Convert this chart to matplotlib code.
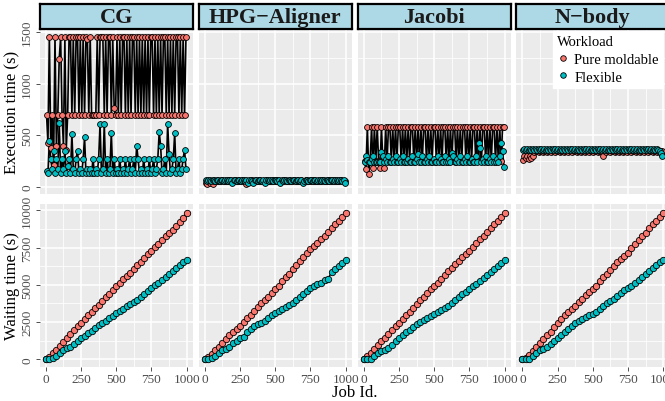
import numpy as np
import matplotlib
matplotlib.use("Agg")
import matplotlib.pyplot as plt
from matplotlib.lines import Line2D

plt.rcParams['font.family'] = ['Liberation Serif', 'DejaVu Serif']

apps = ["CG", "HPG\u2212Aligner", "Jacobi", "N\u2212body"]
workloads = ["Pure moldable", "Flexible"]
colors = {"Pure moldable": "#F8766D", "Flexible": "#00BFC4"}

# execution time, one value every 10 jobs
jobs_exec = np.arange(5, 1000, 10)

cg_exec_mold = [
    700, 420, 1450, 380, 700, 210, 1450, 400, 700, 1240,
    1450, 700, 400, 1450, 360, 700, 1450, 1450, 700, 1450,
    700, 1450, 1450, 700, 1450, 700, 1450, 700, 1450, 1430,
    700, 1450, 700, 700, 700, 700, 1450, 700, 1450, 1450,
    1450, 700, 1450, 700, 1450, 1450, 700, 1450, 760, 700,
    1450, 700, 1450, 700, 1450, 1450, 700, 1450, 700, 1450,
    700, 1450, 1450, 700, 1450, 700, 1450, 700, 1450, 700,
    1450, 700, 1450, 700, 1450, 1450, 700, 1450, 700, 1450,
    700, 1450, 700, 1450, 1450, 700, 1450, 700, 1450, 700,
    1450, 700, 1450, 1450, 700, 1450, 700, 1450, 700, 1450]
cg_exec_flex = [
    150, 130, 440, 270, 170, 350, 130, 270, 170, 620,
    130, 270, 170, 350, 130, 200, 270, 130, 510, 170,
    130, 270, 350, 130, 170, 130, 270, 480, 130, 170,
    130, 170, 130, 270, 130, 170, 130, 270, 610, 130,
    170, 610, 130, 270, 130, 170, 520, 130, 270, 130,
    170, 130, 270, 130, 170, 130, 270, 130, 170, 270,
    130, 170, 270, 130, 400, 270, 130, 170, 130, 270,
    130, 170, 130, 270, 130, 170, 270, 130, 170, 270,
    530, 400, 130, 170, 270, 130, 610, 320, 130, 170,
    270, 520, 130, 170, 270, 130, 170, 270, 360, 170]

hpg_exec_mold = [
    40, 30, 55, 35, 60, 30, 60, 55, 60, 60,
    60, 55, 65, 60, 60, 55, 60, 65, 60, 60,
    60, 65, 55, 60, 60, 60, 65, 60, 60, 30,
    60, 55, 60, 65, 60, 60, 55, 60, 65, 60,
    60, 55, 60, 65, 60, 60, 55, 60, 65, 60,
    60, 65, 55, 60, 60, 60, 65, 60, 60, 55,
    60, 55, 60, 65, 60, 60, 55, 60, 65, 60,
    60, 65, 55, 60, 60, 60, 65, 60, 60, 55,
    60, 55, 60, 65, 60, 60, 55, 60, 65, 60,
    60, 65, 55, 60, 60, 60, 65, 60, 60, 55]
hpg_exec_flex = [
    65, 60, 70, 65, 60, 70, 65, 60, 70, 65,
    60, 70, 65, 60, 70, 65, 60, 70, 65, 40,
    65, 70, 60, 65, 70, 60, 65, 70, 60, 65,
    40, 70, 65, 60, 40, 65, 70, 60, 65, 70,
    60, 65, 40, 65, 70, 60, 65, 70, 60, 65,
    70, 60, 65, 40, 70, 60, 65, 70, 60, 65,
    70, 60, 65, 70, 60, 65, 70, 60, 65, 40,
    60, 70, 65, 60, 70, 65, 60, 70, 65, 60,
    70, 65, 60, 70, 65, 60, 70, 65, 60, 70,
    65, 60, 70, 65, 60, 70, 65, 60, 70, 40]

jac_exec_mold = [
    250, 170, 580, 127, 250, 580, 180, 580, 250, 580,
    250, 180, 580, 250, 180, 580, 250, 580, 580, 250,
    580, 250, 580, 250, 580, 580, 250, 580, 250, 580,
    250, 580, 250, 580, 580, 250, 580, 250, 580, 250,
    580, 250, 580, 580, 250, 580, 250, 580, 250, 580,
    580, 250, 580, 250, 580, 250, 580, 580, 250, 580,
    250, 580, 250, 580, 580, 250, 580, 250, 580, 250,
    580, 580, 250, 580, 250, 580, 250, 580, 580, 250,
    580, 250, 580, 250, 580, 580, 250, 580, 250, 580,
    250, 580, 580, 250, 580, 250, 580, 250, 580, 580]
jac_exec_flex = [
    240, 300, 260, 240, 240, 270, 300, 240, 240, 240,
    240, 240, 340, 300, 240, 270, 240, 300, 240, 240,
    270, 240, 300, 240, 240, 270, 240, 300, 240, 240,
    240, 270, 240, 240, 300, 240, 240, 270, 320, 240,
    240, 300, 240, 240, 270, 240, 300, 240, 240, 270,
    240, 240, 300, 240, 270, 240, 240, 300, 240, 240,
    270, 240, 330, 300, 240, 240, 270, 240, 300, 240,
    240, 270, 240, 300, 240, 240, 270, 240, 240, 300,
    240, 420, 380, 240, 270, 240, 300, 240, 240, 270,
    240, 300, 240, 240, 270, 240, 300, 420, 350, 190]

nb_exec_mold = [
    260, 300, 280, 300, 270, 300, 280, 300, 340, 345,
    345, 340, 345, 345, 340, 345, 345, 340, 345, 345,
    340, 345, 345, 340, 345, 345, 340, 345, 345, 340,
    345, 345, 340, 345, 345, 340, 345, 345, 340, 345,
    345, 340, 345, 345, 340, 345, 345, 340, 345, 345,
    340, 345, 345, 340, 345, 345, 340, 300, 345, 340,
    345, 345, 340, 345, 345, 340, 345, 345, 340, 345,
    345, 340, 345, 345, 340, 345, 345, 340, 345, 345,
    340, 345, 345, 340, 345, 345, 340, 345, 345, 340,
    345, 345, 340, 345, 345, 340, 345, 345, 340, 345]
nb_exec_flex = [
    360, 365, 360, 370, 360, 365, 360, 370, 360, 365,
    360, 370, 360, 365, 360, 370, 360, 365, 360, 370,
    360, 365, 360, 370, 360, 365, 360, 370, 360, 365,
    360, 370, 360, 365, 360, 370, 360, 365, 360, 370,
    360, 365, 360, 370, 360, 365, 360, 370, 360, 365,
    360, 370, 360, 365, 360, 370, 360, 365, 360, 370,
    360, 365, 360, 370, 360, 365, 360, 370, 360, 365,
    360, 370, 360, 365, 360, 370, 360, 365, 360, 370,
    360, 365, 360, 370, 360, 365, 360, 370, 360, 365,
    360, 370, 360, 365, 360, 370, 360, 345, 330, 300]

# waiting time, one value every 25 jobs
jobs_wait = np.arange(0, 1001, 25)

cg_wait_mold = [0, 150, 400, 650, 900, 1150, 1450, 1700, 1950, 2200, 2450,
                2700, 2950, 3200, 3420, 3650, 3900, 4150, 4400, 4650, 4920,
                5150, 5380, 5600, 5800, 6050, 6300, 6550, 6800, 7050, 7280,
                7520, 7750, 8000, 8250, 8480, 8700, 8950, 9200, 9480, 9800]
cg_wait_flex = [0, 30, 100, 250, 450, 650, 750, 850, 1050, 1200, 1400,
                1550, 1750, 1900, 2100, 2300, 2450, 2600, 2750, 2900, 3100,
                3250, 3400, 3550, 3700, 3850, 4000, 4200, 4400, 4600, 4800,
                5000, 5150, 5350, 5550, 5750, 5900, 6100, 6300, 6500, 6650]
hpg_wait_mold = [0, 150, 350, 600, 850, 1100, 1350, 1600, 1800, 2000, 2250,
                 2500, 2750, 3000, 3250, 3500, 3750, 3950, 4200, 4450, 4700,
                 4950, 5250, 5500, 5750, 6050, 6300, 6600, 6850, 7100, 7380,
                 7600, 7800, 8050, 8300, 8550, 8800, 9050, 9300, 9550, 9820]
hpg_wait_flex = [0, 20, 80, 250, 400, 600, 700, 850, 1100, 1250, 1400,
                 1500, 1800, 2000, 2200, 2350, 2400, 2600, 2800, 2950, 3100,
                 3250, 3400, 3500, 3650, 3800, 3950, 4150, 4350, 4550, 4750,
                 4900, 5050, 5150, 5300, 5400, 5850, 6050, 6250, 6450, 6650]
jac_wait_mold = [0, 250, 450, 700, 950, 1200, 1450, 1700, 1950, 2200, 2460,
                 2700, 2950, 3200, 3450, 3700, 3950, 4200, 4450, 4700, 4920,
                 5150, 5400, 5650, 5900, 6150, 6400, 6600, 6850, 7050, 7270,
                 7550, 7800, 8050, 8300, 8550, 8800, 9050, 9300, 9550, 9840]
jac_wait_flex = [0, 0, 50, 200, 450, 550, 650, 750, 950, 1200, 1450,
                 1600, 1800, 1950, 2150, 2350, 2500, 2650, 2800, 2900, 3020,
                 3150, 3300, 3450, 3600, 3750, 3950, 4150, 4350, 4500, 4700,
                 4900, 5050, 5250, 5450, 5650, 5850, 6050, 6250, 6450, 6660]
nb_wait_mold = [0, 100, 300, 550, 850, 1100, 1350, 1600, 1850, 2150, 2460,
                2700, 2950, 3200, 3400, 3600, 3850, 4050, 4300, 4500, 4700,
                4950, 5250, 5500, 5750, 6000, 6250, 6500, 6750, 6950, 7160,
                7450, 7750, 8000, 8250, 8500, 8800, 9050, 9300, 9550, 9840]
nb_wait_flex = [0, 0, 50, 200, 450, 600, 700, 800, 1000, 1200, 1450,
                1600, 1800, 2000, 2200, 2400, 2550, 2700, 2850, 2950, 3020,
                3200, 3350, 3550, 3750, 3900, 4050, 4250, 4450, 4650, 4810,
                4950, 5100, 5300, 5500, 5700, 5900, 6100, 6300, 6500, 6660]

exec_data = [(cg_exec_mold, cg_exec_flex), (hpg_exec_mold, hpg_exec_flex),
             (jac_exec_mold, jac_exec_flex), (nb_exec_mold, nb_exec_flex)]
wait_data = [(cg_wait_mold, cg_wait_flex), (hpg_wait_mold, hpg_wait_flex),
             (jac_wait_mold, jac_wait_flex), (nb_wait_mold, nb_wait_flex)]

W, H = 665, 402
fig = plt.figure(figsize=(W / 100, H / 100), dpi=100)

lefts = [39.5, 198.5, 357.5, 516.0]
pw = 153.5
up_top, up_bot = 30, 195
lo_top, lo_bot = 205, 368


def style(ax, yt, ymin, first, bottom):
    ax.set_facecolor("#EBEBEB")
    for s in ax.spines.values():
        s.set_visible(False)
    ax.set_xlim(-45, 1045)
    ax.set_xticks([0, 250, 500, 750, 1000])
    ax.set_xticks([125, 375, 625, 875], minor=True)
    ax.set_yticks(yt)
    ax.set_yticks(ymin, minor=True)
    ax.grid(which="major", color="white", lw=1.1)
    ax.grid(which="minor", color="white", lw=0.55)
    ax.set_axisbelow(True)
    ax.tick_params(which="minor", length=0)
    ax.tick_params(which="major", color="#333333", length=3, width=0.6,
                   labelsize=9.5, labelcolor="#4D4D4D", pad=1.5)
    if first:
        ax.tick_params(axis="y", labelrotation=90)
        for t in ax.get_yticklabels():
            t.set_va("center")
    else:
        ax.tick_params(axis="y", length=0, labelleft=False)
    if not bottom:
        ax.tick_params(axis="x", length=0, labelbottom=False)


def draw(ax, x, pair, ms, lw):
    for vals in pair:
        ax.plot(x, vals, color="black", lw=lw, zorder=2)
    for w, vals in zip(workloads, pair):
        ax.plot(x, vals, "o", ms=ms, mfc=colors[w], mec="black", mew=0.6,
                zorder=3)


for i, app in enumerate(apps):
    l = lefts[i] / W
    ax1 = fig.add_axes([l, 1 - up_bot / H, pw / W, (up_bot - up_top) / H])
    draw(ax1, jobs_exec, exec_data[i], 4.2, 1.2)
    ax1.set_ylim(-70, 1530)
    style(ax1, [0, 500, 1000, 1500], [250, 750, 1250], i == 0, False)

    ax2 = fig.add_axes([l, 1 - lo_bot / H, pw / W, (lo_bot - lo_top) / H])
    draw(ax2, jobs_wait, wait_data[i], 4.6, 1.0)
    ax2.set_ylim(-520, 10420)
    style(ax2, [0, 2500, 5000, 7500, 10000], [1250, 3750, 6250, 8750],
          i == 0, True)

    st = fig.add_axes([l, 1 - 29.5 / H, pw / W, 25 / H])
    st.set_facecolor("#ADD8E6")
    st.set_xticks([])
    st.set_yticks([])
    for s in st.spines.values():
        s.set_linewidth(1.6)
        s.set_color("black")
    st.text(0.5, 0.45, app, ha="center", va="center", fontsize=16,
            fontweight="bold", color="#1A1A1A", transform=st.transAxes)

fig.text(12 / W, 1 - 112 / H, "Execution time (s)", rotation=90,
         ha="center", va="center", fontsize=12)
fig.text(12 / W, 1 - 286 / H, "Waiting time (s)", rotation=90,
         ha="center", va="center", fontsize=12)
fig.text(355 / W, 1 - 393 / H, "Job Id.", ha="center", va="center",
         fontsize=12)

handles = [Line2D([], [], ls="none", marker="o", ms=4, mfc=colors[w],
                  mec="black", mew=0.6) for w in workloads]
leg = fig.legend(handles, workloads, title="Workload", loc="upper left",
                 bbox_to_anchor=(553 / W, 1 - 32 / H), fontsize=10.5,
                 title_fontsize=10.5, frameon=True, fancybox=False,
                 framealpha=1, edgecolor="white", handlelength=0.8,
                 handletextpad=0.35, borderpad=0.3, labelspacing=0.3,
                 borderaxespad=0)
leg._legend_box.align = "left"

fig.savefig("out.png", dpi=100)
